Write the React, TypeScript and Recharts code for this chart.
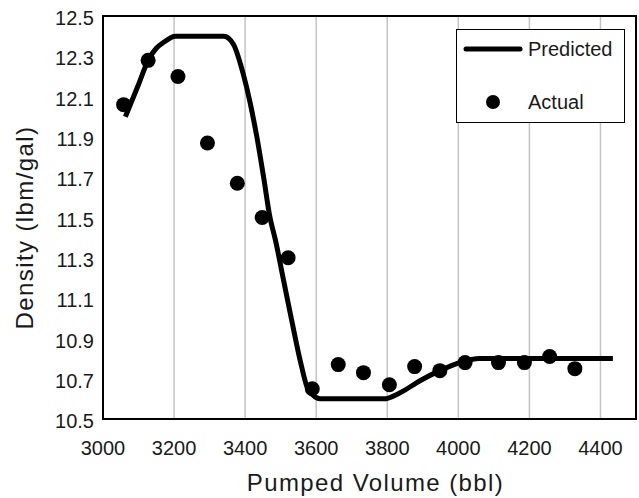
import React from "react";
import {
  ComposedChart,
  Line,
  Scatter,
  XAxis,
  YAxis,
  CartesianGrid,
  ReferenceArea,
} from "recharts";

const predictedX = [3063, 3100, 3127, 3150, 3171, 3204, 3340, 3367, 3395, 3414, 3433, 3452, 3470, 3485, 3508, 3531, 3555, 3574, 3590, 3610, 3790, 3836, 3892, 3948, 4004, 4060, 4435];
const predictedY = [12.0, 12.16, 12.28, 12.34, 12.37, 12.4, 12.4, 12.36, 12.21, 12.07, 11.9, 11.7, 11.5, 11.39, 11.19, 10.99, 10.79, 10.66, 10.62, 10.6, 10.6, 10.63, 10.69, 10.74, 10.78, 10.8, 10.8];

const actualX = [3058, 3127, 3211, 3294, 3378, 3448, 3521, 3589, 3662, 3733, 3806, 3877, 3948, 4019, 4113, 4186, 4257, 4328];
const actualY = [12.06, 12.28, 12.2, 11.87, 11.67, 11.5, 11.3, 10.65, 10.77, 10.73, 10.67, 10.76, 10.74, 10.78, 10.78, 10.78, 10.81, 10.75];

const xTicks = [3000, 3200, 3400, 3600, 3800, 4000, 4200, 4400];
const yTicks = [10.5, 10.7, 10.9, 11.1, 11.3, 11.5, 11.7, 11.9, 12.1, 12.3, 12.5];

const predictedData = predictedX.map((x, i) => ({ x, y: predictedY[i] }));
const actualData = actualX.map((x, i) => ({ x, y: actualY[i] }));

const FONT = "'Liberation Sans', Arial, sans-serif";
const TEXT = "#1a1a1a";

const LegendBox = () => (
  <div
    style={{
      position: "absolute",
      left: 456,
      top: 29,
      width: 169,
      height: 94,
      border: "1.5px solid #000",
      background: "#fff",
      boxSizing: "border-box",
    }}
  >
    <svg width={169} height={94} style={{ position: "absolute", left: -1.5, top: -1.5 }}>
      <line x1={10} y1={20} x2={64} y2={20} stroke="#000" strokeWidth={5} strokeLinecap="round" />
      <circle cx={37} cy={73} r={7} fill="#000" />
      <text x={72} y={27} fontSize={20} fontFamily={FONT} fill={TEXT}>Predicted</text>
      <text x={72} y={80} fontSize={20} fontFamily={FONT} fill={TEXT}>Actual</text>
    </svg>
  </div>
);

export default function App() {
  return (
    <div style={{ position: "absolute", left: 0, top: 0, width: 639, height: 498, background: "#fff" }}>
      <ComposedChart
        width={639}
        height={498}
        margin={{ top: 16, right: 3, bottom: 0, left: 0 }}
      >
        <CartesianGrid horizontal={false} stroke="#c4c4c4" strokeWidth={1.5} />
        <XAxis
          dataKey="x"
          type="number"
          domain={[3000, 4500]}
          ticks={xTicks}
          interval={0}
          allowDataOverflow
          height={79}
          tickLine={false}
          tickSize={0}
          tickMargin={22}
          axisLine={{ stroke: "#000", strokeWidth: 2 }}
          tick={{ fontSize: 20, fontFamily: FONT, fill: TEXT }}
          label={{
            value: "Pumped Volume (bbl)",
            position: "insideBottom",
            offset: 7,
            dx: 6,
            style: { fontSize: 24, fontFamily: FONT, fill: TEXT, letterSpacing: 1.4 },
          }}
        />
        <YAxis
          dataKey="y"
          type="number"
          domain={[10.5, 12.5]}
          ticks={yTicks}
          interval={0}
          allowDataOverflow
          width={103}
          tickLine={false}
          tickSize={0}
          tickMargin={9}
          tickFormatter={(v: number) => v.toFixed(1)}
          axisLine={{ stroke: "#000", strokeWidth: 2 }}
          tick={{ fontSize: 20, fontFamily: FONT, fill: TEXT, dy: 2 }}
          label={{
            value: "Density (lbm/gal)",
            angle: -90,
            position: "insideLeft",
            offset: 0,
            dx: 24,
            dy: 10,
            style: { fontSize: 24, fontFamily: FONT, fill: TEXT, textAnchor: "middle", letterSpacing: 1.4 },
          }}
        />
        <ReferenceArea
          x1={3000}
          x2={4500}
          y1={10.5}
          y2={12.5}
          fill="none"
          stroke="#000"
          strokeWidth={2}
          ifOverflow="visible"
        />
        <Line
          data={predictedData}
          dataKey="y"
          type="monotone"
          stroke="#000"
          strokeWidth={5}
          dot={false}
          activeDot={false}
          isAnimationActive={false}
          name="Predicted"
        />
        <Scatter
          data={actualData}
          dataKey="y"
          fill="#000"
          isAnimationActive={false}
          name="Actual"
          shape={(p: any) => <circle cx={p.cx} cy={p.cy} r={7.5} fill="#000" />}
        />
      </ComposedChart>
      <LegendBox />
    </div>
  );
}
